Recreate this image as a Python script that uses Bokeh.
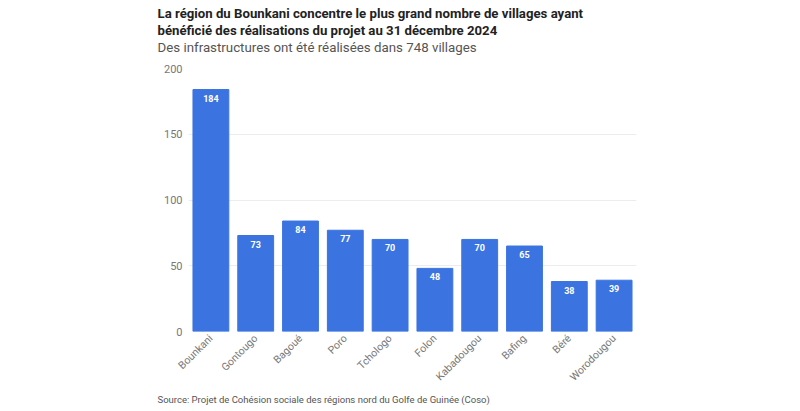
import math
from bokeh.plotting import figure
from bokeh.models import ColumnDataSource, Title, Range1d, FactorRange
from bokeh.core.properties import value
from bokeh.embed import file_html
from bokeh.resources import INLINE

regions = ["Bounkani", "Gontougo", "Bagoué", "Poro", "Tchologo", "Folon",
           "Kabadougou", "Bafing", "Béré", "Worodougou"]
villages = [184, 73, 84, 77, 70, 48, 70, 65, 38, 39]
y_ticks = [0, 50, 100, 150, 200]

title1 = "La région du Bounkani concentre le plus grand nombre de villages ayant"
title2 = "bénéficié des réalisations du projet au 31 décembre 2024"
subtitle = "Des infrastructures ont été réalisées dans 748 villages"
source_text = "Source: Projet de Cohésion sociale des régions nord du Golfe de Guinée (Coso)"

FONT = "Roboto"

src = ColumnDataSource(dict(x=regions, y=villages, lab=[str(v) for v in villages]))

p = figure(width=800, height=411, x_range=FactorRange(*regions, range_padding=0),
           y_range=Range1d(0, 200), output_backend="svg", toolbar_location=None,
           min_border_left=188, min_border_right=164, min_border_top=68,
           min_border_bottom=80, title=None)
p.outline_line_color = None
p.background_fill_color = "white"
p.border_fill_color = "white"

p.vbar(x="x", top="y", width=0.8, source=src, color="#3b74e0")
p.text(x="x", y="y", text="lab", source=src, text_align="center",
       text_baseline="top", y_offset=5, text_color="white",
       text_font=value(FONT), text_font_size="9px", text_font_style="bold")

p.xgrid.grid_line_color = None
p.ygrid.grid_line_color = "#ececec"
p.yaxis.ticker = y_ticks
p.yaxis.axis_line_color = None
p.yaxis.major_tick_line_color = None
p.yaxis.minor_tick_line_color = None
p.yaxis.major_tick_out = 0
p.yaxis.minor_tick_out = 0
p.yaxis.major_label_text_color = "#777777"
p.yaxis.major_label_text_font = FONT
p.yaxis.major_label_text_font_size = "11px"
p.yaxis.major_label_standoff = 6

p.xaxis.axis_line_color = None
p.xaxis.major_tick_line_color = None
p.xaxis.major_tick_out = 0
p.xaxis.major_label_orientation = math.pi / 4
p.xaxis.major_label_text_color = "#777777"
p.xaxis.major_label_text_font = FONT
p.xaxis.major_label_text_font_size = "10.5px"
p.xaxis.major_label_standoff = 5

# titles stack outward from the frame: add nearest first
p.add_layout(Title(text=" ", text_font_size="2px", standoff=10), "above")  # spacer
for txt, size, style, color in [
    (subtitle, "13.3px", "normal", "#555555"),
    (title2, "13.2px", "bold", "#222222"),
    (title1, "13.2px", "bold", "#222222"),
]:
    p.add_layout(Title(text=txt, align="left", offset=-31, text_font=FONT,
                       text_font_size=size, text_font_style=style,
                       text_color=color, standoff=0), "above")

p.add_layout(Title(text=source_text, align="left", offset=-31, text_font=FONT,
                   text_font_size="9.5px", text_font_style="normal",
                   text_color="#555555", standoff=0), "below")

open("out.html", "w").write(file_html(p, INLINE))
